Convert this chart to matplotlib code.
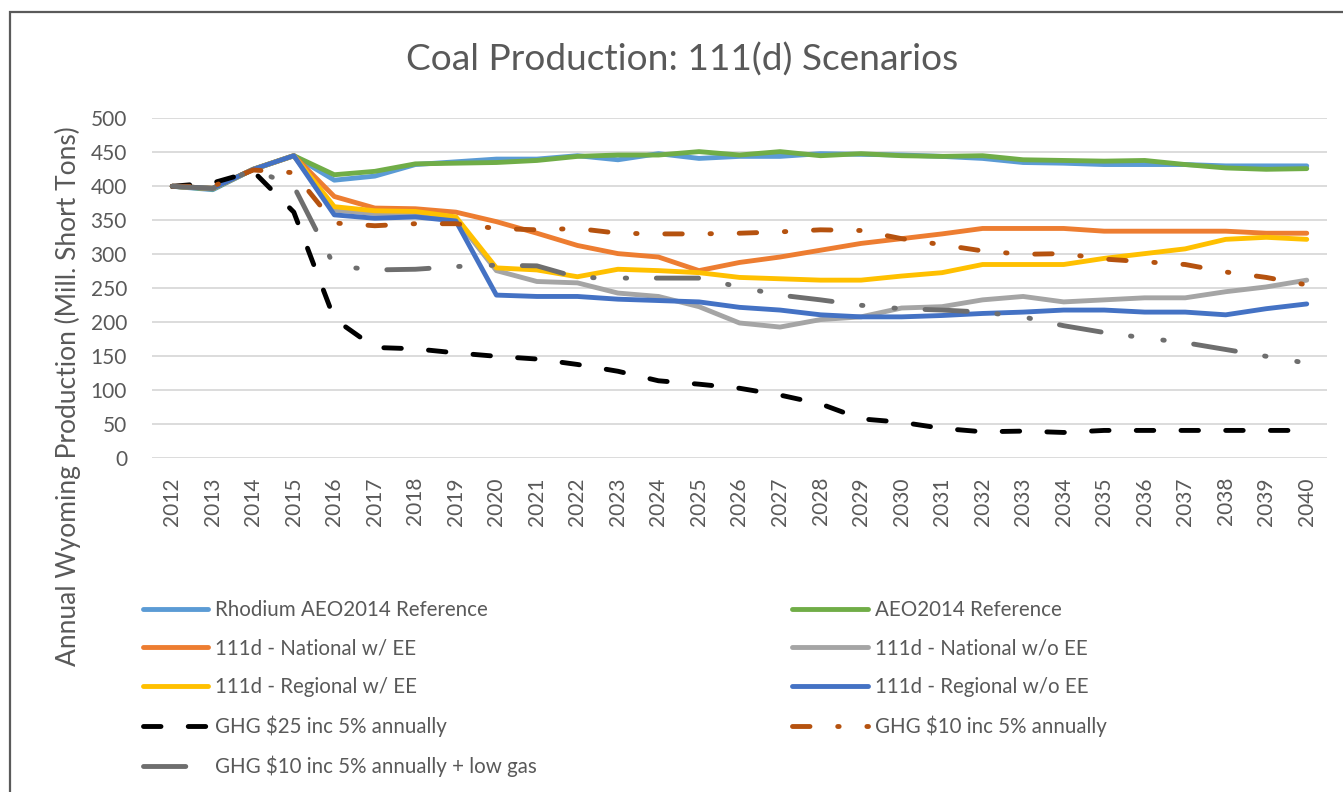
import matplotlib.pyplot as plt

plt.rcParams['font.family'] = ['Lato', 'DejaVu Sans']

years = list(range(2012, 2041))

rhodium_ref = [400, 395, 425, 445, 409, 415, 432, 436, 440, 440, 445, 439, 448, 441, 444,
               444, 448, 447, 446, 444, 441, 435, 434, 432, 432, 432, 430, 430, 430]
aeo_ref = [400, 396, 425, 445, 417, 422, 433, 434, 435, 438, 444, 446, 446, 451, 446,
           451, 445, 448, 445, 444, 445, 439, 438, 437, 438, 432, 427, 425, 426]
national_ee = [400, 397, 425, 445, 385, 368, 367, 362, 348, 331, 313, 301, 296, 276, 288,
               296, 306, 316, 323, 330, 338, 338, 338, 334, 334, 334, 334, 331, 331]
national_no_ee = [400, 397, 425, 445, 365, 360, 360, 352, 276, 260, 258, 243, 238, 223, 199,
                  193, 204, 208, 221, 223, 233, 238, 230, 233, 236, 236, 245, 252, 262]
regional_ee = [400, 397, 425, 445, 370, 364, 363, 355, 280, 277, 267, 278, 276, 273, 266,
               264, 262, 262, 268, 273, 285, 285, 285, 294, 301, 308, 322, 325, 322]
regional_no_ee = [400, 397, 425, 445, 358, 353, 355, 349, 240, 238, 238, 234, 232, 230, 222,
                  218, 211, 208, 208, 210, 213, 215, 218, 218, 215, 215, 211, 220, 227]
ghg25 = [400, 405, 422, 362, 205, 163, 161, 155, 150, 146, 138, 128, 114, 109, 103,
         93, 80, 58, 53, 44, 39, 40, 38, 41, 41, 41, 41, 41, 41]
ghg10 = [400, 400, 424, 420, 346, 342, 345, 345, 338, 336, 338, 331, 330, 330, 331,
         333, 336, 335, 323, 314, 305, 300, 301, 293, 289, 285, 274, 266, 255]
ghg10_low_gas = [400, 397, 425, 400, 283, 277, 278, 282, 284, 283, 266, 265, 265, 265, 252,
                 240, 233, 225, 220, 218, 215, 208, 195, 185, 177, 170, 160, 150, 140]

text_col = '#595959'
lw = 3.5

# (label, values, colour, dash pattern or None)
series = [
    ("Rhodium AEO2014 Reference", rhodium_ref, '#5B9BD5', None),
    ("AEO2014 Reference", aeo_ref, '#70AD47', None),
    ("111d - National w/ EE", national_ee, '#ED7D31', None),
    ("111d - National w/o EE", national_no_ee, '#A5A5A5', None),
    ("111d - Regional w/ EE", regional_ee, '#FFC000', None),
    ("111d - Regional w/o EE", regional_no_ee, '#4472C4', None),
    ("GHG $25 inc 5% annually", ghg25, '#000000', (3.6, 5.6)),
    ("GHG $10 inc 5% annually", ghg10, '#B5520F', (3.6, 5.7, 0.3, 5.7)),
    ("GHG $10 inc 5% annually + low gas", ghg10_low_gas, '#6E6E6E', (8.7, 6.1, 0.3, 6.4, 0.3, 6.1)),
]

fig = plt.figure(figsize=(13.43, 7.92), dpi=100)
ax = fig.add_axes([152 / 1343, 1 - 458.3 / 792, 1175 / 1343, 340 / 792])

handles = {}
for label, vals, col, dash in series:
    ln, = ax.plot(years, vals, color=col, lw=lw, solid_capstyle='round',
                  dash_capstyle='round', solid_joinstyle='round', label=label)
    if dash is not None:
        ln.set_dashes(dash)
    handles[label] = ln

ax.set_xlim(2011.5, 2040.5)
ax.set_ylim(0, 500)
ax.set_yticks(range(0, 501, 50))
ax.set_xticks(years)
ax.set_xticklabels([str(y) for y in years], rotation=90)
ax.grid(axis='y', color='#D9D9D9', lw=1.3)
ax.set_axisbelow(True)
for s in ax.spines.values():
    s.set_visible(False)
ax.tick_params(axis='y', length=0, pad=18, labelsize=15, labelcolor=text_col)
ax.tick_params(axis='x', length=0, pad=13.5, labelsize=15, labelcolor=text_col)

fig.text(682 / 1343, 1 - 60 / 792, "Coal Production: 111(d) Scenarios",
         ha='center', va='center', fontsize=26.7, color=text_col)
fig.text(68 / 1343, 1 - 396 / 792, "Annual Wyoming Production (Mill. Short Tons)",
         ha='center', va='center', rotation=90, fontsize=19, color=text_col)

# legend: two columns like the Excel one
left = [s[0] for s in series[0::2]]
right = [s[0] for s in series[1::2]]
leg_kw = dict(frameon=False, loc='upper left', borderpad=0, borderaxespad=0,
              fontsize=14.8, labelspacing=0.9, handletextpad=0.35, labelcolor=text_col)
leg1 = fig.legend([handles[l] for l in left], left, bbox_to_anchor=(143 / 1343, 1 - 600 / 792),
                  handlelength=3.15, **leg_kw)
leg2 = fig.legend([handles[l] for l in right], right, bbox_to_anchor=(792 / 1343, 1 - 600 / 792),
                  handlelength=3.7, **leg_kw)

# outer chart frame (cut off at right and bottom)
fig.patches.append(plt.Rectangle((10 / 1343, -0.1), 1.5, 1 - 12 / 792 + 0.1,
                                 transform=fig.transFigure, fill=False,
                                 edgecolor='#5A5A5A', lw=1.6))

fig.savefig("out.png", dpi=100)
